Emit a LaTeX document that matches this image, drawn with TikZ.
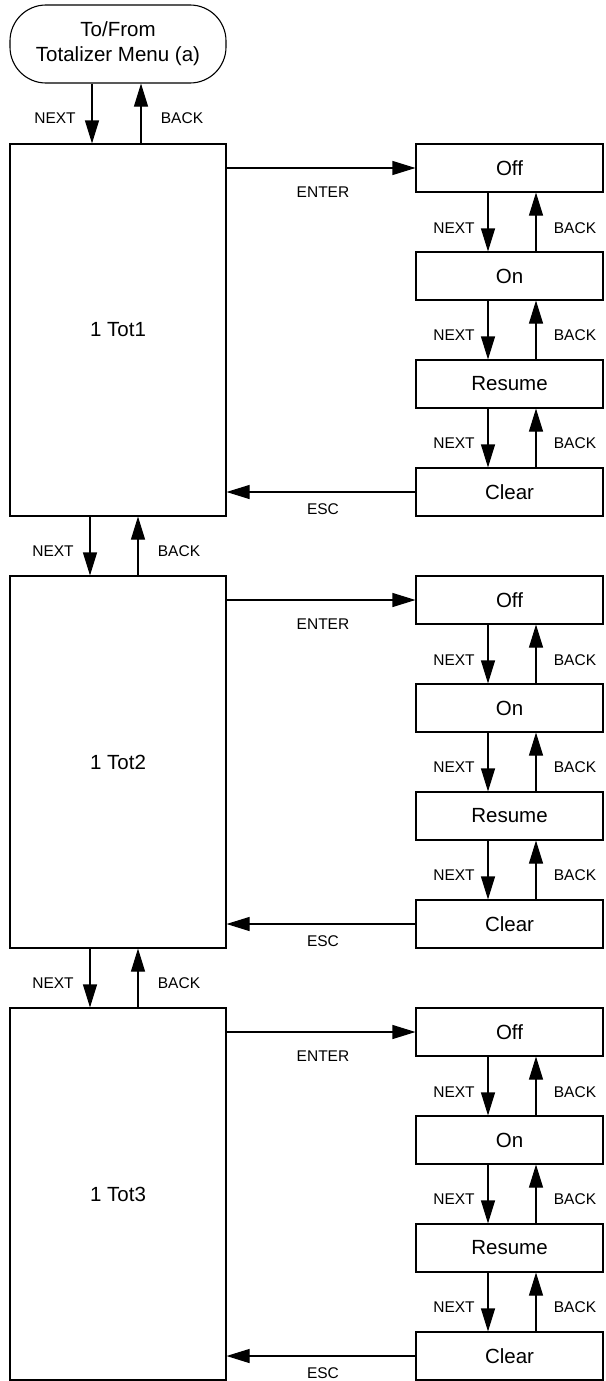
\documentclass[tikz,border=0pt]{standalone}
\usepackage{fontspec}
\setmainfont{Liberation Sans}
\usetikzlibrary{arrows.meta}
\begin{document}
\begin{tikzpicture}[x=1pt,y=-1pt,
  box/.style={draw,line width=1.1pt,inner sep=0pt,font=\fontsize{20.5}{25}\selectfont},
  lbl/.style={font=\fontsize{15.5}{17}\selectfont,inner sep=0pt},
  arr/.style={line width=1.1pt,-{Triangle[length=23pt,width=14pt]}}]
\useasboundingbox (0,0) rectangle (605,1381);
\node[box,rounded corners=36pt,minimum width=216pt,minimum height=78pt,align=center] (top) at (118,44) {To/From\\Totalizer Menu (a)};
\coordinate (tn) at (92,0);
\coordinate (tb) at (141,0);
\coordinate (ln) at (90,0);
\coordinate (lb) at (138,0);
\coordinate (rn) at (488,0);
\coordinate (rb) at (536,0);
\foreach \k in {1,2,3} {
  \pgfmathsetmacro\dy{(\k-1)*432}
  \node[box,minimum width=216pt,minimum height=372pt] (big\k) at (118,330+\dy) {1 Tot\k};
  \node[box,minimum width=187pt,minimum height=48pt] (off\k) at (509.5,168+\dy) {Off};
  \node[box,minimum width=187pt,minimum height=48pt] (on\k) at (509.5,276+\dy) {On};
  \node[box,minimum width=187pt,minimum height=48pt] (res\k) at (509.5,384+\dy) {Resume};
  \node[box,minimum width=187pt,minimum height=48pt] (clr\k) at (509.5,492+\dy) {Clear};
  \draw[arr] (big\k.east |- off\k.west) -- (off\k.west);
  \draw[arr] (clr\k.west) -- (big\k.east |- clr\k.west);
  \node[lbl] (enter\k) at (323,192+\dy) {ENTER};
  \node[lbl] (esc\k) at (323,509+\dy) {ESC};
  \draw[arr] (off\k.south -| rn) -- (on\k.north -| rn);
  \draw[arr] (on\k.north -| rb) -- (off\k.south -| rb);
  \draw[arr] (on\k.south -| rn) -- (res\k.north -| rn);
  \draw[arr] (res\k.north -| rb) -- (on\k.south -| rb);
  \draw[arr] (res\k.south -| rn) -- (clr\k.north -| rn);
  \draw[arr] (clr\k.north -| rb) -- (res\k.south -| rb);
  \node[lbl] (na\k) at (454,228+\dy) {NEXT};
  \node[lbl] (ba\k) at (575,228+\dy) {BACK};
  \node[lbl] (nb\k) at (454,335+\dy) {NEXT};
  \node[lbl] (bb\k) at (575,335+\dy) {BACK};
  \node[lbl] (nc\k) at (454,443+\dy) {NEXT};
  \node[lbl] (bc\k) at (575,443+\dy) {BACK};
}
\draw[arr] (top.south -| tn) -- (big1.north -| tn);
\draw[arr] (big1.north -| tb) -- (top.south -| tb);
\node[lbl] (ntop) at (55,118) {NEXT};
\node[lbl] (btop) at (182,118) {BACK};
\draw[arr] (big1.south -| ln) -- (big2.north -| ln);
\draw[arr] (big2.north -| lb) -- (big1.south -| lb);
\node[lbl] (n12) at (53,551) {NEXT};
\node[lbl] (b12) at (179,551) {BACK};
\draw[arr] (big2.south -| ln) -- (big3.north -| ln);
\draw[arr] (big3.north -| lb) -- (big2.south -| lb);
\node[lbl] (n23) at (53,983) {NEXT};
\node[lbl] (b23) at (179,983) {BACK};
\end{tikzpicture}
\end{document}
